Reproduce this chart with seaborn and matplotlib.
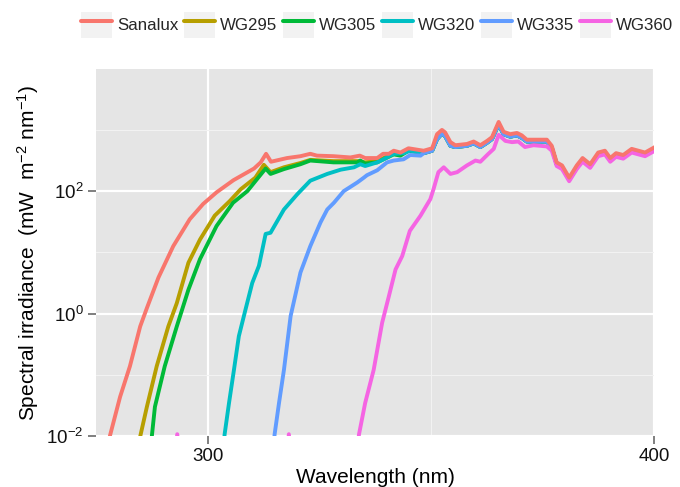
import matplotlib
matplotlib.use("Agg")
import matplotlib.pyplot as plt
import seaborn as sns
import pandas as pd
from matplotlib.ticker import FixedLocator, FixedFormatter, NullFormatter
from matplotlib.patches import Patch
from matplotlib.lines import Line2D

# ---------------- data ----------------
sources = ["Sanalux", "WG295", "WG305", "WG320", "WG335", "WG360"]
colors = ["#F8766D", "#B79F00", "#00BA38", "#00BFC4", "#619CFF", "#F564E3"]

# short-wave part of each spectrum (mW m-2 nm-1)
sanalux_wl = [277.5, 278.0, 280.4, 282.6, 284.9, 286.4, 289.0, 292.3, 296.0, 299.0,
              302.0, 305.8, 310.4, 311.9, 313.1, 314.2, 317.8, 320.8, 323.0, 324.5,
              328.2, 332.0, 334.1, 335.3, 338.0, 339.3, 340.6, 341.7, 343.2, 345.0]
sanalux_short = [0.006, 0.0093, 0.0437, 0.138, 0.617, 1.23, 3.89, 12.6, 34.7, 61.7,
                 95.5, 151, 234, 295, 407, 302, 347, 372, 407, 380,
                 372, 355, 380, 347, 347, 407, 407, 457, 427, 501]

wg295_wl = [284.5, 284.9, 286.4, 288.6, 291.2, 293.1, 295.7, 298.3, 301.6, 305.0,
            307.4, 310.7, 312.6, 314.1, 317.1, 320.8, 323.0, 328.2, 333.5, 335.3,
            338.0, 339.4, 341.7, 343.2, 345.0]
wg295_short = [0.006, 0.0098, 0.030, 0.138, 0.617, 1.48, 6.76, 16.2, 39.8, 69.2,
               107, 166, 269, 204, 245, 288, 324, 309, 309, 295,
               309, 347, 417, 398, 468]

wg305_wl = [287.2, 287.5, 288.2, 290.4, 293.1, 295.7, 298.3, 302.0, 305.7, 308.9,
            311.1, 313.0, 314.1, 317.1, 320.8, 323.0, 328.2, 333.5, 334.2, 335.3,
            338.0, 339.4, 341.7, 343.2, 345.0]
wg305_short = [0.006, 0.0098, 0.030, 0.138, 0.617, 2.45, 7.76, 26.9, 64.6, 100,
               158, 234, 191, 229, 275, 316, 295, 295, 316, 282,
               295, 331, 398, 380, 457]

wg320_wl = [303.6, 303.8, 304.8, 305.9, 307.0, 308.5, 310.0, 311.5, 313.0, 314.1,
            317.1, 320.1, 323.0, 326.8, 329.8, 332.8, 334.2, 335.3, 338.0, 339.4,
            341.7, 343.9, 345.4]
wg320_short = [0.006, 0.0105, 0.0347, 0.120, 0.427, 1.17, 3.16, 6.03, 20.0, 20.9,
               50.1, 89.1, 148, 191, 224, 245, 275, 257, 295, 331,
               407, 417, 457]

wg335_wl = [314.8, 315.0, 316.0, 317.1, 318.6, 320.8, 323.0, 325.3, 326.8, 328.3,
            330.5, 333.5, 335.0, 335.7, 338.0, 340.2, 341.7, 343.9, 345.4, 347.7]
wg335_short = [0.006, 0.0105, 0.0347, 0.120, 0.912, 4.68, 12.6, 30.9, 50.1, 64.6,
               100, 138, 166, 182, 219, 295, 316, 331, 389, 380]

# long-wave part, where Sanalux and WG295-WG335 nearly coincide
wl_long = [348.4, 350.3, 351.4, 352.5, 353.2, 354.4, 355.5, 358.1, 359.6, 361.1,
           362.6, 363.7, 365.2, 366.3, 367.8, 369.3, 370.4, 371.5, 374.5, 376.0,
           377.1, 378.2, 379.4, 381.0, 382.7, 384.0, 385.7, 387.5, 389.0, 390.2,
           391.5, 393.1, 395.0, 398.0, 400.2]
sanalux_long = [457, 501, 851, 1000, 912, 631, 562, 589, 646, 562,
                661, 759, 1349, 933, 851, 891, 813, 692, 692, 692,
                550, 295, 263, 166, 263, 347, 275, 427, 457, 347,
                417, 389, 490, 427, 525]
wg_long = [417, 457, 708, 871, 794, 550, 525, 550, 603, 525,
           617, 708, 1230, 851, 776, 813, 741, 646, 646, 646,
           513, 275, 245, 155, 245, 324, 257, 398, 427, 324,
           389, 363, 457, 398, 490]

wg360_wl = [292.6, 293.2, 293.8, 317.6, 318.2, 318.8, 333.3, 333.9, 335.3, 337.2,
            339.1, 340.6, 342.1, 343.6, 345.3, 347.7, 349.9, 350.6, 351.7, 352.9,
            354.4, 355.9, 358.1, 360.0, 361.1, 362.9, 364.1, 365.2, 366.7, 368.2,
            369.6, 371.1, 373.0, 374.5, 376.0, 377.1, 378.2, 379.4, 381.0, 382.7,
            384.0, 385.7, 387.5, 389.0, 390.2, 391.5, 393.1, 395.0, 398.0, 400.2]
wg360 = [0.004, 0.0107, 0.004, 0.004, 0.0107, 0.004, 0.004, 0.0105, 0.0347, 0.120,
         0.708, 1.91, 5.25, 8.71, 22.4, 39.8, 74.1, 107, 204, 245,
         191, 204, 263, 316, 302, 407, 490, 832, 661, 631,
         646, 525, 562, 550, 537, 457, 257, 229, 145, 229,
         302, 240, 372, 398, 302, 363, 339, 427, 372, 457]

y_breaks = [1e-2, 1e0, 1e2, 1e4]
y_labels = [r"$10^{-2}$", r"$10^{0}$", r"$10^{2}$", r"$10^{4}$"]
y_minor = [1e-1, 1e1, 1e3]
x_breaks = [300, 400]
x_minor = [350]

# ---------------- table ----------------
series = {
    "Sanalux": (sanalux_wl + wl_long, sanalux_short + sanalux_long),
    "WG295": (wg295_wl + wl_long, wg295_short + wg_long),
    "WG305": (wg305_wl + wl_long, wg305_short + wg_long),
    "WG320": (wg320_wl + wl_long, wg320_short + wg_long),
    "WG335": (wg335_wl + wl_long, wg335_short + wg_long),
    "WG360": (wg360_wl, wg360),
}
rows = []
for name, (xs, ys) in series.items():
    for x, y in zip(xs, ys):
        rows.append({"wavelength": x, "irradiance": y, "source": name})
df = pd.DataFrame(rows)

# ---------------- style ----------------
sns.set_theme(style="darkgrid")
plt.rcParams["font.family"] = ["Liberation Sans", "DejaVu Sans"]
plt.rcParams["mathtext.fontset"] = "custom"
plt.rcParams["mathtext.rm"] = "Liberation Sans"
plt.rcParams["mathtext.it"] = "Liberation Sans:italic"
plt.rcParams["mathtext.bf"] = "Liberation Sans:bold"

W, H = 680, 487
fig = plt.figure(figsize=(W / 100, H / 100), dpi=100)
fig.patch.set_facecolor("white")
ax = fig.add_axes([96 / W, 1 - 436 / H, (654 - 96) / W, (436 - 69.3) / H])
ax.set_facecolor("#E5E5E5")

sns.lineplot(data=df, x="wavelength", y="irradiance", hue="source",
             hue_order=sources, palette=colors, linewidth=2.8,
             estimator=None, sort=False, legend=False, ax=ax)
for ln in ax.lines:
    ln.set_solid_joinstyle("round")
ax.lines[0].set_zorder(3)

ax.set_yscale("log")
ax.set_xlim(275, 400)
ax.set_ylim(1e-2, 10 ** 3.99)

ax.yaxis.set_major_locator(FixedLocator(y_breaks))
ax.yaxis.set_major_formatter(FixedFormatter(y_labels))
ax.yaxis.set_minor_locator(FixedLocator(y_minor))
ax.yaxis.set_minor_formatter(NullFormatter())
ax.xaxis.set_major_locator(FixedLocator(x_breaks))
ax.xaxis.set_minor_locator(FixedLocator(x_minor))
ax.xaxis.set_minor_formatter(NullFormatter())

ax.grid(which="major", color="white", linewidth=1.6)
ax.grid(which="minor", color="#F2F2F2", linewidth=0.8)
ax.set_axisbelow(True)
for s in ax.spines.values():
    s.set_visible(False)

ax.tick_params(axis="both", which="major", bottom=True, left=True,
               length=5.8, width=1.4, color="#7F7F7F",
               labelsize=13.5, labelcolor="#111111", pad=3)
ax.tick_params(axis="both", which="minor", length=0)

ax.set_xlabel("Wavelength (nm)", fontsize=15, color="black")
ax.set_ylabel(r"Spectral irradiance  (mW  m$^{-2}$ nm$^{-1}$)", fontsize=15, color="black")
ax.xaxis.set_label_coords(0.5, -0.088)
ax.yaxis.set_label_coords(-0.098, 0.5)

handles = [(Patch(facecolor="#F2F2F2", edgecolor="none"),
            Line2D([], [], color=c, lw=2.9)) for c in colors]
fig.legend(handles, sources, loc="center left",
           bbox_to_anchor=(81 / W, 1 - 25 / H), ncol=6, frameon=False,
           fontsize=12.2, handlelength=1.85, handleheight=2.0,
           handletextpad=0.27, columnspacing=0.34, borderpad=0,
           borderaxespad=0)

fig.savefig("out.png", dpi=100)
